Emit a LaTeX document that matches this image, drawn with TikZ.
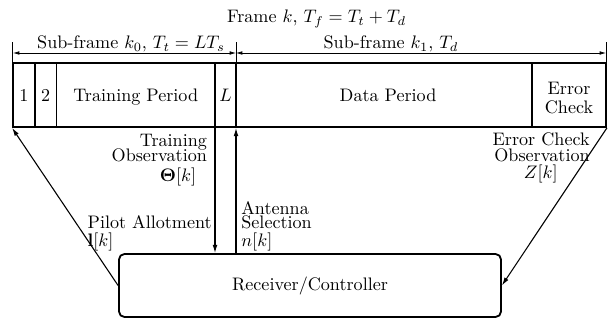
\documentclass[tikz,border=0pt]{standalone}
\usepackage{amsmath,amsbsy}
\usetikzlibrary{arrows.meta}
\def\tightlines{\lineskiplimit-100pt\relax}
\begin{document}
\begin{tikzpicture}[x=0.552pt,y=-0.552pt,
  cellbox/.style={draw, line width=1pt, minimum height=64*0.552pt, inner sep=0pt},
  conn/.style={line width=0.6pt, -{Latex[length=4.5pt,width=2.6pt]}},
  dimline/.style={line width=0.4pt, {Latex[length=3.5pt,width=2pt]}-{Latex[length=3.5pt,width=2pt]}},
  tickline/.style={line width=0.4pt},
  lbl/.style={inner sep=0pt, font={\fontsize{10pt}{8.3pt}\selectfont\tightlines}},
  txt/.style={inner sep=0pt, anchor=base}]
\useasboundingbox (0,0) rectangle (613,320);
% frame cells
\node[cellbox, minimum width=22*0.552pt] (c1) at (24,95) {};
\node[cellbox, minimum width=21.5*0.552pt] (c2) at (45.75,95) {};
\node[cellbox, minimum width=158.5*0.552pt] (tp) at (135.75,95) {};
\node[cellbox, minimum width=21*0.552pt] (cL) at (225.5,95) {};
\node[cellbox, minimum width=296*0.552pt] (dp) at (384,95) {};
\node[cellbox, minimum width=74*0.552pt] (ec) at (569,95) {};
\node[txt] (t1) at (24,101.7) {1};
\node[txt] (t2) at (45.75,101.7) {2};
\node[txt] (ttp) at (135.75,101.7) {Training Period};
\node[txt] (tL) at (225.5,101.7) {$L$};
\node[txt] (tdp) at (388,101.7) {Data Period};
\node[inner sep=0pt, anchor=north, align=center, font={\fontsize{10pt}{10.5pt}\selectfont\tightlines}] (tec) at (569,81.9) {Error\\Check};
% top labels
\node[txt] (frm) at (316.5,22.7) {Frame $k$, $T_f=T_t+T_d$};
\node[txt] (sf0) at (131,48.3) {Sub-frame $k_0$, $T_t=LT_s$};
\node[txt] (sf1) at (391,48.3) {Sub-frame $k_1$, $T_d$};
% dimension lines
\coordinate (d0) at (13,53);
\coordinate (d1) at (236,53);
\coordinate (d2) at (606,53);
\draw[tickline] (c1.north west) ++(0.4pt,0) -- ++(0,-20);
\draw[tickline] (cL.north east) ++(-0.3pt,0) -- ++(0,-20);
\draw[tickline] (ec.north east) ++(-0.3pt,0) -- ++(0,-20);
\draw[dimline] (d0) -- (d1);
\draw[dimline] (d1) -- (d2);
% controller
\node[draw, line width=1pt, rounded corners=3pt, minimum width=382*0.552pt, minimum height=63*0.552pt] (rc) at (310,285.5) {Receiver/Controller};
% connectors
\draw[conn] (rc.west) -- (c1.south west);
\draw[conn] (ec.south east) -- (rc.east);
\draw[conn] (tp.south east) ++(-0.5pt,0) coordinate (tpo) -- (tpo |- rc.north);
\draw[conn] (cL.south east |- rc.north) ++(-0.5pt,0) coordinate (cLo) -- (cLo |- cL.south);
% labels
\node[lbl, anchor=north east, align=right] (lto) at (207.3,134) {Training\\Observation\\[2.4pt]$\boldsymbol{\Theta}[k]$\hspace*{5.9pt}};
\node[lbl, anchor=north east, align=right] (leo) at (590,132.1) {Error Check\\[0.5pt]Observation\hspace*{6.1pt}\\[1.3pt]$Z[k]$\hspace*{17.7pt}};
\node[lbl, anchor=north west, align=left] (lpa) at (87.3,215.4) {Pilot Allotment\\[1.4pt]$\mathbf{l}[k]$};
\node[lbl, anchor=north west, align=left] (las) at (241,201.6) {Antenna\\[-0.6pt]Selection\\[1.4pt]$n[k]$};
\end{tikzpicture}
\end{document}
